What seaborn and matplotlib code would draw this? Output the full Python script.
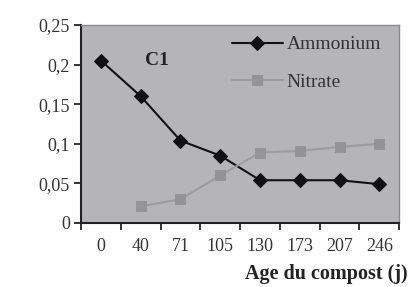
import matplotlib
matplotlib.use("Agg")
import matplotlib.pyplot as plt
import seaborn as sns
import pandas as pd
import numpy as np

# data
AGES = ["0", "40", "71", "105", "130", "173", "207", "246"]
AMMONIUM = [0.205, 0.160, 0.104, 0.085, 0.054, 0.054, 0.054, 0.049]
NITRATE = [np.nan, 0.021, 0.030, 0.060, 0.089, 0.091, 0.096, 0.100]
Y_TICKS = [0, 0.05, 0.1, 0.15, 0.2, 0.25]
Y_LABELS = ["0", "0,05", "0,1", "0,15", "0,2", "0,25"]


def main():
    sns.set_style("white")
    plt.rcParams["font.family"] = ["Liberation Serif", "DejaVu Serif"]

    fig = plt.figure(figsize=(4.18, 2.87), dpi=100)
    ax = fig.add_axes([0.194, 0.223, 0.761, 0.690])
    ax.set_facecolor("#b5b5b7")

    df = pd.DataFrame({"age": AGES, "Ammonium": AMMONIUM, "Nitrate": NITRATE})
    sns.lineplot(data=df, x="age", y="Ammonium", ax=ax, color="#111111",
                 marker="D", markersize=7.5, linewidth=1.5,
                 markeredgecolor="#111111", label="Ammonium")
    sns.lineplot(data=df.dropna(), x="age", y="Nitrate", ax=ax,
                 color="#9c9c9c", marker="s", markersize=7.5, linewidth=1.5,
                 markeredgecolor="#949494", markerfacecolor="#949494",
                 label="Nitrate")

    ax.set_xlim(-0.5, len(AGES) - 0.5)
    ax.set_ylim(0, 0.25)
    ax.set_yticks(Y_TICKS)
    ax.set_yticklabels(Y_LABELS, fontsize=13, color="#333333")
    ax.set_xticks(range(len(AGES)))
    ax.set_xticklabels(AGES, fontsize=13, color="#333333")
    ax.set_xticks(np.arange(-0.5, len(AGES)), minor=True)
    ax.tick_params(axis="x", which="major", length=0, pad=11)
    ax.tick_params(axis="x", which="minor", length=5, width=1.3,
                   direction="out", color="#222222", bottom=True)
    ax.tick_params(axis="y", length=5, width=1.3, direction="out",
                   color="#222222", left=True, pad=3)

    for side in ["left", "bottom"]:
        ax.spines[side].set_color("#222222")
        ax.spines[side].set_linewidth(1.5)
    for side in ["top", "right"]:
        ax.spines[side].set_color("#8a8a8a")
        ax.spines[side].set_linewidth(1.0)

    ax.set_ylabel("")
    ax.set_xlabel("Age du compost (j)", fontsize=14.5, fontweight="bold",
                  color="#222222")
    ax.xaxis.set_label_coords(1.025, -0.205)
    ax.xaxis.label.set_horizontalalignment("right")

    ax.text(0.2, 0.8, "C1", transform=ax.transAxes, fontsize=14,
            fontweight="bold", color="#222222")

    leg = ax.legend(loc="upper left", frameon=False, fontsize=14,
                    handlelength=2.6, labelspacing=1.0, borderpad=0,
                    borderaxespad=0, bbox_to_anchor=(0.475, 0.945),
                    handletextpad=0.2)
    for t in leg.get_texts():
        t.set_color("#333333")

    fig.savefig("out.png", dpi=100, facecolor="white")


if __name__ == "__main__":
    main()
